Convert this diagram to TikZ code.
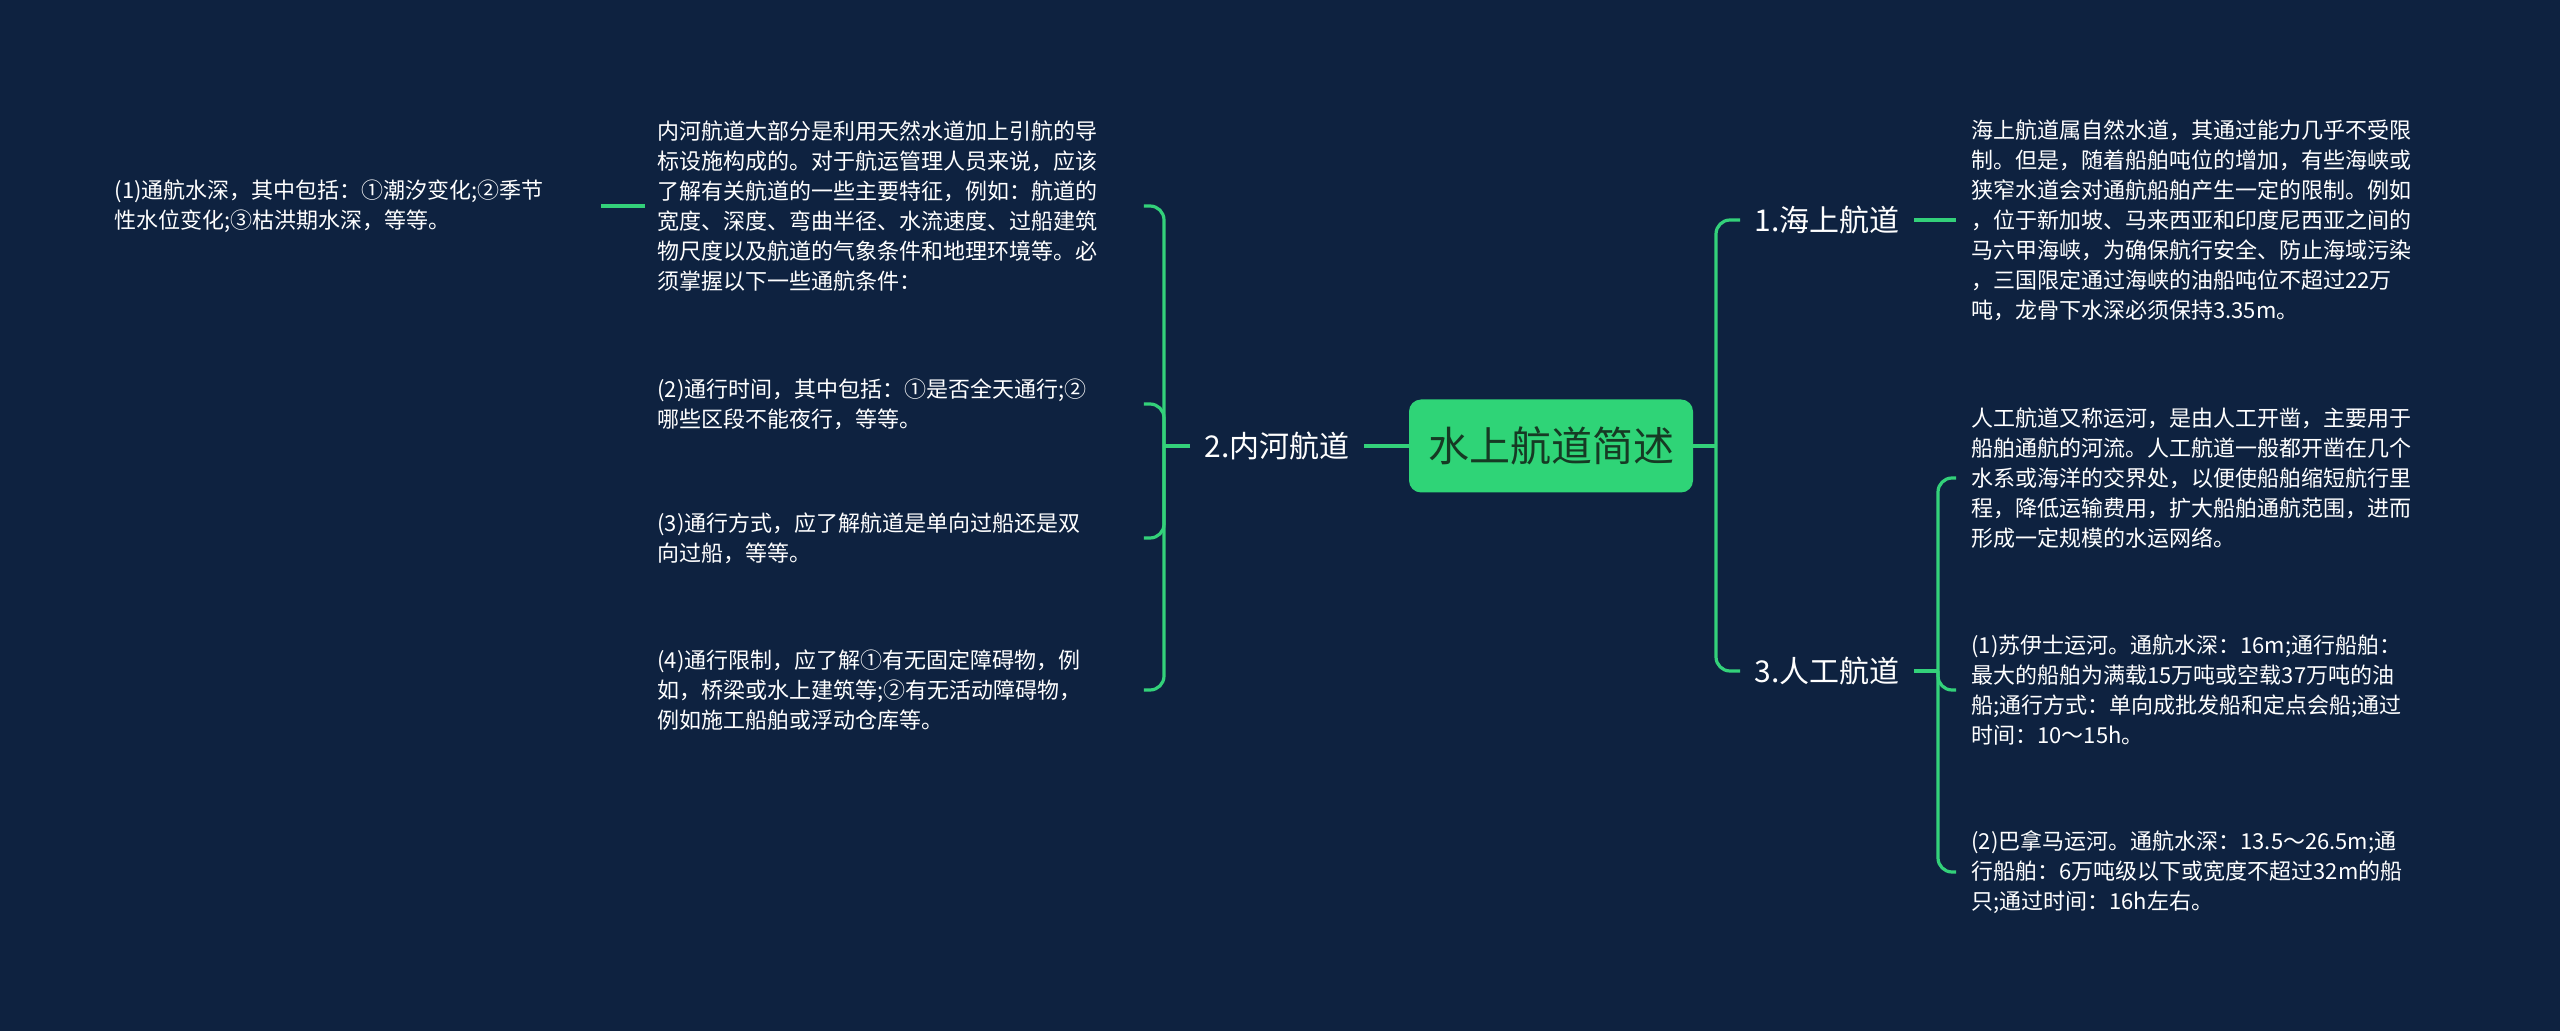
\documentclass[tikz,border=0pt]{standalone}
\usepackage{fontspec}
\setmainfont{Noto Sans CJK SC}
\definecolor{bgnavy}{HTML}{0E2240}
\definecolor{linegreen}{HTML}{33D17A}
\definecolor{boxgreen}{HTML}{2FD477}
\definecolor{titledark}{HTML}{163A24}
\tikzset{
  conn/.style={linegreen, line width=1.6pt, rounded corners=7pt},
  branch/.style={text=white, font=\fontsize{15}{18}\selectfont, inner xsep=7pt, inner ysep=4pt},
  leaf/.style={text=white, font=\fontsize{11}{15}\selectfont, align=left, inner ysep=2pt},
}

\begin{document}
\begin{tikzpicture}[x=0.5pt,y=-0.5pt]
	\fill[bgnavy] (0,0) rectangle (2560,1031);
	\useasboundingbox (0,0) rectangle (2560,1031);

	\node[fill=boxgreen, rounded corners=6pt, minimum width=142pt, minimum height=46.5pt, text=titledark, font=\fontsize{20.5}{24}\selectfont] (root) at (1551,446) {水上航道简述};

	\node[branch] (sea) at (1827,220) {1.海上航道};
	\node[branch] (inland) at (1277,446) {2.内河航道};
	\node[branch] (canal) at (1827,671) {3.人工航道};

	% left side
	\node[leaf, anchor=west, inner xsep=6pt, text width=237pt] (in1) at (645,206) {内河航道大部分是利用天然水道加上引航的导\\标设施构成的。对于航运管理人员来说，应该\\了解有关航道的一些主要特征，例如：航道的\\宽度、深度、弯曲半径、水流速度、过船建筑\\物尺度以及航道的气象条件和地理环境等。必\\须掌握以下一些通航条件：};
	\node[leaf, anchor=west, inner xsep=6pt, text width=237pt] (in2) at (645,404) {(2)通行时间，其中包括：①是否全天通行;②\\哪些区段不能夜行，等等。};
	\node[leaf, anchor=west, inner xsep=6pt, text width=237pt] (in3) at (645,538) {(3)通行方式，应了解航道是单向过船还是双\\向过船，等等。};
	\node[leaf, anchor=west, inner xsep=6pt, text width=237pt] (in4) at (645,690) {(4)通行限制，应了解①有无固定障碍物，例\\如，桥梁或水上建筑等;②有无活动障碍物，\\例如施工船舶或浮动仓库等。};
	\node[leaf, anchor=east, inner xsep=13pt, text width=230pt] (depth) at (601,206) {(1)通航水深，其中包括：①潮汐变化;②季节\\性水位变化;③枯洪期水深，等等。};

	% right side
	\node[leaf, anchor=west, inner xsep=7.5pt, text width=240pt] (seatxt) at (1956,220) {海上航道属自然水道，其通过能力几乎不受限\\制。但是，随着船舶吨位的增加，有些海峡或\\狭窄水道会对通航船舶产生一定的限制。例如\\，位于新加坡、马来西亚和印度尼西亚之间的\\马六甲海峡，为确保航行安全、防止海域污染\\，三国限定通过海峡的油船吨位不超过22万\\吨，龙骨下水深必须保持3.35m。};
	\node[leaf, anchor=west, inner xsep=7.5pt, text width=240pt] (ca1) at (1956,478) {人工航道又称运河，是由人工开凿，主要用于\\船舶通航的河流。人工航道一般都开凿在几个\\水系或海洋的交界处，以便使船舶缩短航行里\\程，降低运输费用，扩大船舶通航范围，进而\\形成一定规模的水运网络。};
	\node[leaf, anchor=west, inner xsep=7.5pt, text width=240pt] (ca2) at (1956,690) {(1)苏伊士运河。通航水深：16m;通行船舶：\\最大的船舶为满载15万吨或空载37万吨的油\\船;通行方式：单向成批发船和定点会船;通过\\时间：10～15h。};
	\node[leaf, anchor=west, inner xsep=7.5pt, text width=240pt] (ca3) at (1956,872) {(2)巴拿马运河。通航水深：13.5～26.5m;通\\行船舶：6万吨级以下或宽度不超过32m的船\\只;通过时间：16h左右。};

	\coordinate (rj) at (1716,446);
	\coordinate (lj) at (1164,446);
	\coordinate (cj) at (1938,671);

	\draw[conn] (root.east) -- (rj);
	\draw[conn] (rj) |- (sea.west);
	\draw[conn] (rj) |- (canal.west);
	\draw[conn] (root.west) -- (inland.east);
	\draw[conn] (inland.west) -- (lj);
	\foreach \n in {in1,in2,in3,in4}
		\draw[conn] (lj) |- (\n.east);
	\draw[conn] (in1.west) -- (depth.east);
	\draw[conn] (sea.east) -- (seatxt.west);
	\draw[conn] (canal.east) -- (cj);
	\foreach \n in {ca1,ca2,ca3}
		\draw[conn] (cj) |- (\n.west);
\end{tikzpicture}
\end{document}
